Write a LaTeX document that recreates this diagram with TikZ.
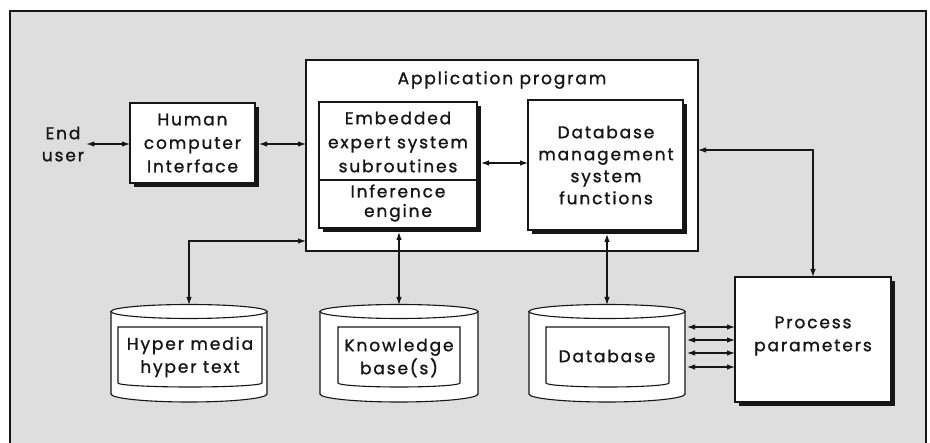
\documentclass[tikz,border=0pt]{standalone}
\usepackage{fontspec}
\setmainfont{Poppins}[LetterSpace=11, FakeBold=1.2]
\usetikzlibrary{arrows.meta,shadows}
\definecolor{bg}{RGB}{222,222,222}
\definecolor{ink}{RGB}{22,22,22}
\begin{document}
\begin{tikzpicture}[x=1pt,y=-1pt,
  lbl/.style={font=\fontsize{17}{22}\selectfont, align=center, text=ink, inner sep=0pt},
  conn/.style={draw=ink, line width=1.1pt, {Latex[length=8pt,width=5.5pt]}-{Latex[length=8pt,width=5.5pt]}},
  box/.style={draw=ink, line width=1.1pt, fill=white, inner sep=0pt, outer sep=0pt, anchor=north west},
  shbox/.style={box, general shadow={fill=ink, shadow xshift=4pt, shadow yshift=-4pt}},
  cylst/.style={draw=ink, line width=1.1pt, fill=white},
  ghost/.style={inner sep=0pt, outer sep=0pt, draw=none}]
\useasboundingbox (0,0) rectangle (930,443);
\fill[white] (0,0) rectangle (930,443);
\draw[line width=2.2pt, draw=ink, fill=bg] (10,11) rectangle (926,455);

% application program
\node[box, minimum width=392, minimum height=191] (app) at (306,60) {};
\node[lbl] (apptitle) at (502,80) {Application program};

% embedded expert system
\node[shbox, minimum width=158, minimum height=126] (emb) at (319,102) {};
\draw[ink, line width=1.1pt] (emb.west |- 0,180) -- (emb.east |- 0,180);
\node[lbl, font=\fontsize{17}{24}\selectfont] (embtxt) at (398,142) {Embedded\\expert system\\subroutines};
\node[lbl, font=\fontsize{17}{19.5}\selectfont] (inftxt) at (398,203) {Inference\\engine};

% DBMS
\node[shbox, minimum width=155, minimum height=130] (dbms) at (528,100) {};
\node[lbl] (dbmstxt) at (606,165) {Database\\management\\system\\functions};

% HCI
\node[shbox, minimum width=125, minimum height=80] (hci) at (130,103) {};
\node[lbl, font=\fontsize{17}{23.5}\selectfont] (hcitxt) at (hci.center) {Human\\computer\\Interface};

% End user
\node[lbl] (user) at (63,144) {End\\user};

% Process parameters
\node[shbox, minimum width=156, minimum height=125] (proc) at (735,277) {};
\node[lbl, font=\fontsize{17}{23}\selectfont] (proctxt) at (813,336) {Process\\parameters};

% cylinders
\foreach \L/\R/\n in {111/267/hyp, 320/478/kb, 529/685/db}{
  \pgfmathsetmacro\cx{(\L+\R)/2}
  \pgfmathsetmacro\rx{(\R-\L)/2}
  \filldraw[cylst] (\L,311.5) -- (\L,394) .. controls (\L,398.4) and ({\cx-0.5523*\rx},402) .. (\cx,402)
     .. controls ({\cx+0.5523*\rx},402) and (\R,398.4) .. (\R,394) -- (\R,311.5) -- cycle;
  \filldraw[cylst] (\cx,311.5) ellipse [x radius=\rx, y radius=7];
  \node[ghost, minimum width=\R-\L, minimum height=97] (\n) at (\cx,353.5) {};
  \coordinate (\n top) at (\cx,305);
}
\foreach \a/\b in {118/262, 338/460, 546/669}{
  \pgfmathsetmacro\m{(\a+\b)/2}
  \pgfmathsetmacro\h{(\b-\a)/2}
  \draw[ink, line width=1.1pt] (\a,327) -- (\a,383) .. controls (\a,385.2) and ({\m-0.5523*\h},387) .. (\m,387)
     .. controls ({\m+0.5523*\h},387) and (\b,385.2) .. (\b,383) -- (\b,327) -- cycle;
}
\node[lbl, font=\fontsize{17}{23}\selectfont] (hyptxt) at (190,357) {Hyper media\\hyper text};
\node[lbl, font=\fontsize{17}{23}\selectfont] (kbtxt) at (399,358) {Knowledge\\base(s)};
\node[lbl] (dbtxt) at (607,356) {Database};

% connectors
\draw[conn] ([xshift=2pt]user.east |- 0,144) -- (hci.west |- 0,144);
\draw[conn] ([xshift=4pt]hci.east |- 0,144) -- (app.west |- 0,144);
\draw[conn] ([xshift=4pt]emb.east |- 0,163) -- (dbms.west |- 0,163);
\draw[conn] (app.east |- 0,150) -| (proc.north);
\draw[conn] (app.west |- 0,241) -| (hyptop);
\draw[conn] ([yshift=-4pt]kbtop |- emb.south) -- (kbtop);
\draw[conn] ([yshift=-4pt]dbtop |- dbms.south) -- (dbtop);
\foreach \y in {327,340,353,367}{
  \draw[conn] ([xshift=2pt]db.east |- 0,\y) -- (proc.west |- 0,\y);
}
\end{tikzpicture}
\end{document}
